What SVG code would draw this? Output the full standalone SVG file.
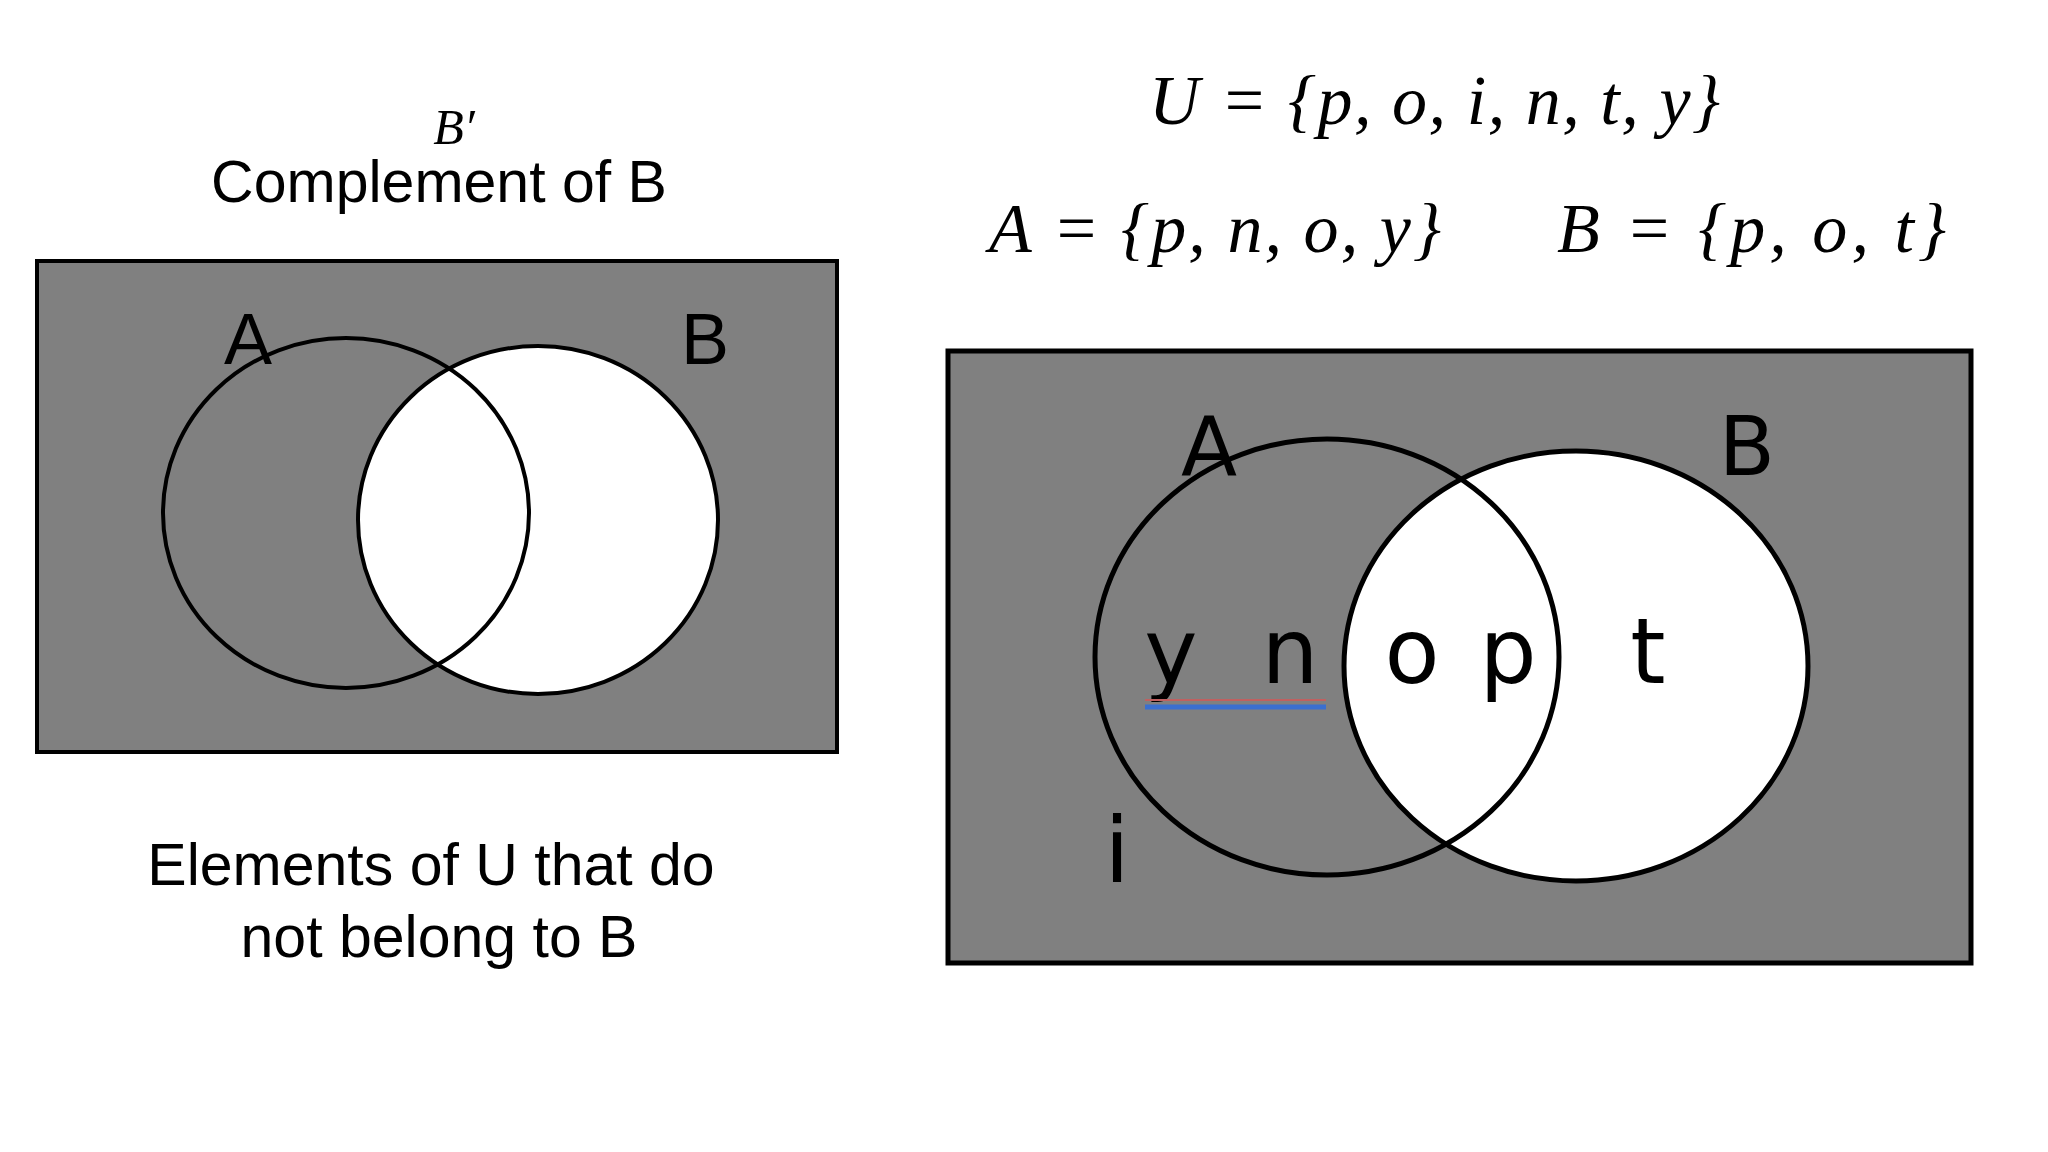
<svg xmlns="http://www.w3.org/2000/svg" width="2048" height="1152" viewBox="0 0 2048 1152">
<style>
.s{font-family:"Liberation Sans",Arial,sans-serif;fill:#000}
.m{font-family:"Liberation Serif","DejaVu Serif",serif;font-style:italic;fill:#000}
.d{font-family:"DejaVu Sans",sans-serif;fill:#000}
.bg{fill:#808080;stroke:#000}
</style>
<rect width="2048" height="1152" fill="#fff"/>
<g id="left">
<rect class="bg" x="37" y="261" width="800" height="491" stroke-width="4"/>
<ellipse cx="538" cy="520" rx="180" ry="174" fill="#fff"/>
<ellipse cx="346" cy="513" rx="183" ry="175" fill="none" stroke="#000" stroke-width="4"/>
<ellipse cx="538" cy="520" rx="180" ry="174" fill="none" stroke="#000" stroke-width="4"/>
<text class="s" x="248" y="364" font-size="72" text-anchor="middle">A</text>
<text class="s" x="705" y="364" font-size="72" text-anchor="middle">B</text>
</g>
<g id="left-text">
<text class="m" x="454" y="144" font-size="50" text-anchor="middle">B′</text>
<text class="s" x="439" y="202" font-size="59" text-anchor="middle">Complement of B</text>
<text class="s" x="431" y="885" font-size="59" text-anchor="middle">Elements of U that do</text>
<text class="s" x="439" y="957" font-size="59" text-anchor="middle">not belong to B</text>
</g>
<g id="sets">
<text class="m" x="1149" y="124" font-size="70" textLength="571" lengthAdjust="spacing">U = {p, o, i, n, t, y}</text>
<text class="m" x="989" y="252" font-size="70" textLength="452" lengthAdjust="spacing">A = {p, n, o, y}</text>
<text class="m" x="1557" y="252" font-size="70" textLength="389" lengthAdjust="spacing">B = {p, o, t}</text>
</g>
<g id="right">
<rect class="bg" x="948" y="351" width="1023" height="612" stroke-width="5"/>
<ellipse cx="1576" cy="666" rx="232" ry="215" fill="#fff"/>
<ellipse cx="1327" cy="657" rx="232" ry="218" fill="none" stroke="#000" stroke-width="5"/>
<ellipse cx="1576" cy="666" rx="232" ry="215" fill="none" stroke="#000" stroke-width="5"/>
<text class="d" x="1209" y="475" font-size="82" text-anchor="middle">A</text>
<text class="d" x="1747" y="475" font-size="82" text-anchor="middle">B</text>
<text class="d" x="1171" y="683" font-size="90" text-anchor="middle">y</text>
<text class="d" x="1290" y="683" font-size="90" text-anchor="middle">n</text>
<text class="d" x="1412" y="683" font-size="90" text-anchor="middle">o</text>
<text class="d" x="1508" y="683" font-size="90" text-anchor="middle">p</text>
<text class="d" x="1648" y="683" font-size="90" text-anchor="middle">t</text>
<text class="d" x="1117" y="882" font-size="90" text-anchor="middle">i</text>
<line x1="1145" y1="700" x2="1326" y2="700" stroke="#c06060" stroke-width="2"/>
<line x1="1145" y1="707" x2="1326" y2="707" stroke="#3a6fd0" stroke-width="5"/>
</g>
</svg>
